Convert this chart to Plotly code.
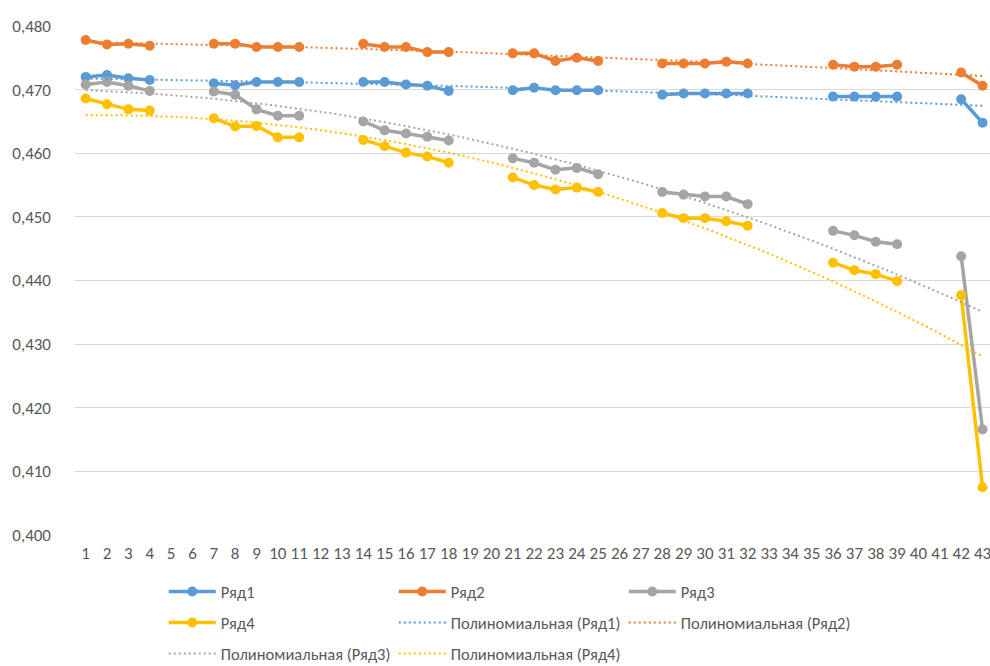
import numpy as np
import plotly.graph_objects as go

categories = list(range(1, 44))
N = None

ryad1 = [0.4720, 0.4723, 0.4718, 0.4715, N, N, 0.4710, 0.4707, 0.4712, 0.4712, 0.4712, N, N,
         0.4712, 0.4712, 0.4708, 0.4706, 0.4698, N, N, 0.4699, 0.4703, 0.4699, 0.4699, 0.4699, N, N,
         0.4692, 0.4694, 0.4694, 0.4694, 0.4694, N, N, N, 0.4689, 0.4689, 0.4689, 0.4689, N, N,
         0.4685, 0.4648]
ryad2 = [0.4778, 0.4771, 0.4772, 0.4769, N, N, 0.4772, 0.4772, 0.4767, 0.4767, 0.4767, N, N,
         0.4772, 0.4767, 0.4767, 0.4759, 0.4759, N, N, 0.4757, 0.4757, 0.4745, 0.4750, 0.4745, N, N,
         0.4741, 0.4741, 0.4741, 0.4744, 0.4741, N, N, N, 0.4739, 0.4736, 0.4736, 0.4739, N, N,
         0.4727, 0.4706]
ryad3 = [0.4708, 0.4712, 0.4706, 0.4698, N, N, 0.4697, 0.4692, 0.4669, 0.4659, 0.4659, N, N,
         0.4650, 0.4636, 0.4631, 0.4626, 0.4620, N, N, 0.4592, 0.4585, 0.4574, 0.4577, 0.4567, N, N,
         0.4539, 0.4535, 0.4532, 0.4532, 0.4520, N, N, N, 0.4478, 0.4471, 0.4461, 0.4457, N, N,
         0.4438, 0.4166]
ryad4 = [0.4686, 0.4677, 0.4669, 0.4667, N, N, 0.4655, 0.4642, 0.4643, 0.4625, 0.4625, N, N,
         0.4621, 0.4611, 0.4601, 0.4595, 0.4585, N, N, 0.4562, 0.4550, 0.4543, 0.4546, 0.4539, N, N,
         0.4506, 0.4498, 0.4498, 0.4493, 0.4486, N, N, N, 0.4428, 0.4416, 0.4410, 0.4399, N, N,
         0.4377, 0.4075]

series_names = ["Ряд1", "Ряд2", "Ряд3", "Ряд4"]
trend_names = ["Полиномиальная (Ряд1)", "Полиномиальная (Ряд2)",
               "Полиномиальная (Ряд3)", "Полиномиальная (Ряд4)"]
y_ticks = [0.400, 0.410, 0.420, 0.430, 0.440, 0.450, 0.460, 0.470, 0.480]

colors = ["#5B9BD5", "#ED7D31", "#A5A5A5", "#FFC000"]
FONT = "Carlito, 'Liberation Sans Narrow', 'Noto Sans', sans-serif"
FS = 17

fig = go.Figure()
all_series = [ryad1, ryad2, ryad3, ryad4]
legend_of_series = ["legend", "legend", "legend", "legend2"]
legend_of_trend = ["legend2", "legend2", "legend3", "legend3"]

for name, vals, col, lg in zip(series_names, all_series, colors, legend_of_series):
    fig.add_trace(go.Scatter(
        x=categories, y=vals, name=name, mode="lines+markers",
        line=dict(color=col, width=3.5), marker=dict(size=10, color=col),
        connectgaps=False, legend=lg, cliponaxis=False))

xs = np.linspace(1, 43, 300)
for name, vals, col, lg in zip(trend_names, all_series, colors, legend_of_trend):
    xv = np.array([c for c, v in zip(categories, vals) if v is not None], float)
    yv = np.array([v for v in vals if v is not None], float)
    coef = np.polyfit(xv, yv, 2)
    fig.add_trace(go.Scatter(
        x=xs, y=np.polyval(coef, xs), name=name, mode="lines",
        line=dict(color=col, width=2, dash="2px,3px"), legend=lg, hoverinfo="skip"))

legend_common = dict(orientation="h", x=0.097, xanchor="left", yanchor="top",
                     entrywidth=168, entrywidthmode="pixels", itemwidth=47,
                     font=dict(family=FONT, size=16.5, color="#595959"),
                     bgcolor="rgba(0,0,0,0)", tracegroupgap=0)

fig.update_layout(
    width=990, height=666,
    paper_bgcolor="white", plot_bgcolor="white",
    margin=dict(l=75, r=0, t=26, b=131, autoexpand=False),
    separators=", ",
    font=dict(family=FONT, size=FS, color="#595959"),
    showlegend=True,
    legend=dict(legend_common, y=-0.077),
    legend2=dict(legend_common, y=-0.138),
    legend3=dict(legend_common, y=-0.199),
    xaxis=dict(range=[0.5, 43.35], tickmode="array", tickvals=categories,
               ticktext=[str(c) for c in categories], showgrid=False,
               zeroline=False, showline=False, ticks="", ticklabelstandoff=6,
               automargin=False, ticklabeloverflow="allow",
               tickfont=dict(family=FONT, size=FS, color="#595959")),
    yaxis=dict(range=[0.400, 0.480], tickmode="array", tickvals=y_ticks,
               tickformat=".3f", showgrid=True, gridcolor="#D9D9D9", gridwidth=1,
               zeroline=False, showline=False, ticks="", ticklabelstandoff=23,
               automargin=False,
               tickfont=dict(family=FONT, size=FS, color="#595959")),
)

fig.write_html("out.html", config={"displayModeBar": False},
               post_script="document.body.style.margin='0';document.body.style.overflow='hidden';")
